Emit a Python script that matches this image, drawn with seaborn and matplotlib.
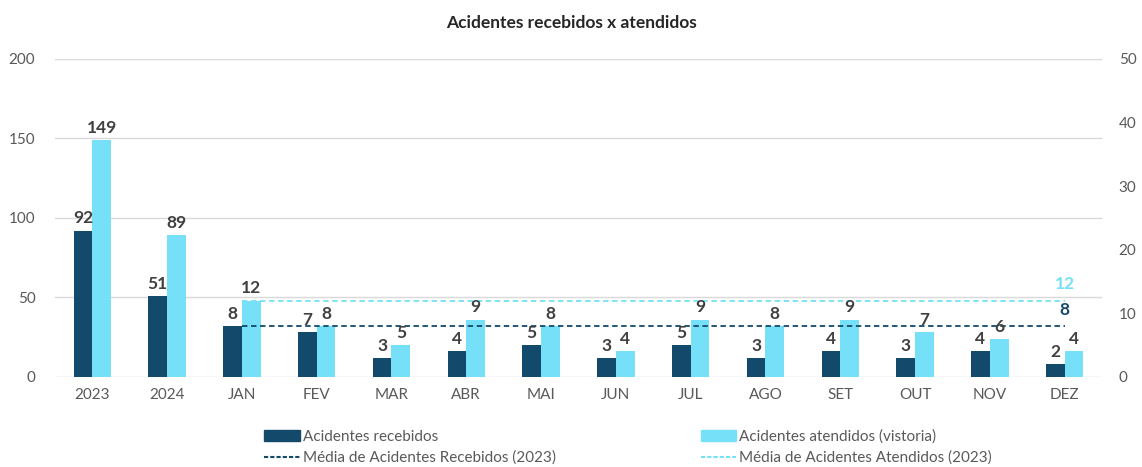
import pandas as pd
import numpy as np
import seaborn as sns
import matplotlib.pyplot as plt
from matplotlib.lines import Line2D
from matplotlib.patches import Patch

OUT_IMG = "out.png"

# anos (eixo esquerdo) e meses (eixo direito)
ANOS = ["2023", "2024"]
MESES = ["JAN", "FEV", "MAR", "ABR", "MAI", "JUN", "JUL", "AGO", "SET", "OUT", "NOV", "DEZ"]

RECEBIDOS_ANOS = [92, 51]
ATENDIDOS_ANOS = [149, 89]
RECEBIDOS_MESES = [8, 7, 3, 4, 5, 3, 5, 3, 4, 3, 4, 2]
ATENDIDOS_MESES = [12, 8, 5, 9, 8, 4, 9, 8, 9, 7, 6, 4]

MEDIA_RECEBIDOS_2023 = 8
MEDIA_ATENDIDOS_2023 = 12

SERIE_REC = "Acidentes recebidos"
SERIE_AT = "Acidentes atendidos (vistoria)"
COR_REC = "#134A6B"
COR_AT = "#75E0F7"
COR_TEXTO = "#404040"


def monta_df(cats, rec, at):
    return pd.DataFrame({
        "Categoria": cats * 2,
        "Serie": [SERIE_REC] * len(cats) + [SERIE_AT] * len(cats),
        "Valor": rec + at,
    })


def main():
    sns.set_theme(style="white")
    plt.rcParams["font.family"] = ["Lato", "DejaVu Sans"]

    ordem = ANOS + MESES
    df_anos = monta_df(ANOS, RECEBIDOS_ANOS, ATENDIDOS_ANOS)
    df_meses = monta_df(MESES, RECEBIDOS_MESES, ATENDIDOS_MESES)
    paleta = {SERIE_REC: COR_REC, SERIE_AT: COR_AT}

    fig = plt.figure(figsize=(11.42, 4.67), dpi=100)
    ax = fig.add_axes([0.048, 0.193, 0.917, 0.681])
    ax2 = ax.twinx()

    sns.barplot(data=df_anos, x="Categoria", y="Valor", hue="Serie", order=ordem,
                hue_order=[SERIE_REC, SERIE_AT], palette=paleta, width=0.5,
                saturation=1, linewidth=0, ax=ax, legend=False)
    sns.barplot(data=df_meses, x="Categoria", y="Valor", hue="Serie", order=ordem,
                hue_order=[SERIE_REC, SERIE_AT], palette=paleta, width=0.5,
                saturation=1, linewidth=0, ax=ax2, legend=False)

    for eixo in (ax, ax2):
        for cont in eixo.containers:
            eixo.bar_label(cont, fmt="%d", padding=3, fontsize=12.5,
                           fontweight="bold", color=COR_TEXTO)

    # linhas de média (2023) nos meses
    x_ini = ordem.index("JAN")
    x_fim = ordem.index("DEZ")
    ax2.plot([x_ini, x_fim], [MEDIA_ATENDIDOS_2023] * 2, ls=(0, (3, 2)), lw=1.3, color=COR_AT)
    ax2.plot([x_ini, x_fim], [MEDIA_RECEBIDOS_2023] * 2, ls=(0, (3, 2)), lw=1.3, color=COR_REC)
    ax2.text(x_fim, MEDIA_ATENDIDOS_2023 + 1.3, str(MEDIA_ATENDIDOS_2023), ha="center",
             va="bottom", fontsize=12.5, fontweight="bold", color=COR_AT)
    ax2.text(x_fim, MEDIA_RECEBIDOS_2023 + 1.3, str(MEDIA_RECEBIDOS_2023), ha="center",
             va="bottom", fontsize=12.5, fontweight="bold", color=COR_REC)

    ax.set_xlim(-0.5, len(ordem) - 0.5)
    ax.set_ylim(0, 200)
    ax.set_yticks(range(0, 201, 50))
    ax2.set_ylim(0, 50)
    ax2.set_yticks(range(0, 51, 10))
    ax.yaxis.grid(True, color="#D9D9D9", lw=1)
    ax.set_axisbelow(True)
    ax2.grid(False)
    ax.set_xlabel("")
    ax.set_ylabel("")
    ax2.set_ylabel("")
    for eixo in (ax, ax2):
        for s in eixo.spines.values():
            s.set_visible(False)
        eixo.tick_params(axis="both", length=0, labelsize=11, labelcolor="#595959")
    ax.tick_params(axis="y", pad=14)
    ax2.tick_params(axis="y", pad=12)
    ax.tick_params(axis="x", pad=8)

    fig.suptitle("Acidentes recebidos x atendidos", y=0.968, fontsize=12.5,
                 fontweight="bold", color="#262626")

    handles = [
        Patch(color=COR_REC, label=SERIE_REC),
        Line2D([], [], color=COR_REC, ls=(0, (2, 1)), lw=1.5,
               label="Média de Acidentes Recebidos (2023)"),
        Patch(color=COR_AT, label=SERIE_AT),
        Line2D([], [], color=COR_AT, ls=(0, (2, 1)), lw=1.5,
               label="Média de Acidentes Atendidos (2023)"),
    ]
    fig.legend(handles=handles, ncol=2, loc="lower center", bbox_to_anchor=(0.55, -0.025),
               frameon=False, fontsize=11, labelcolor="#595959", handlelength=2.3,
               handletextpad=0.2, columnspacing=9.5, labelspacing=0.45,
               handleheight=0.7)

    fig.savefig(OUT_IMG, dpi=100)


if __name__ == "__main__":
    main()
